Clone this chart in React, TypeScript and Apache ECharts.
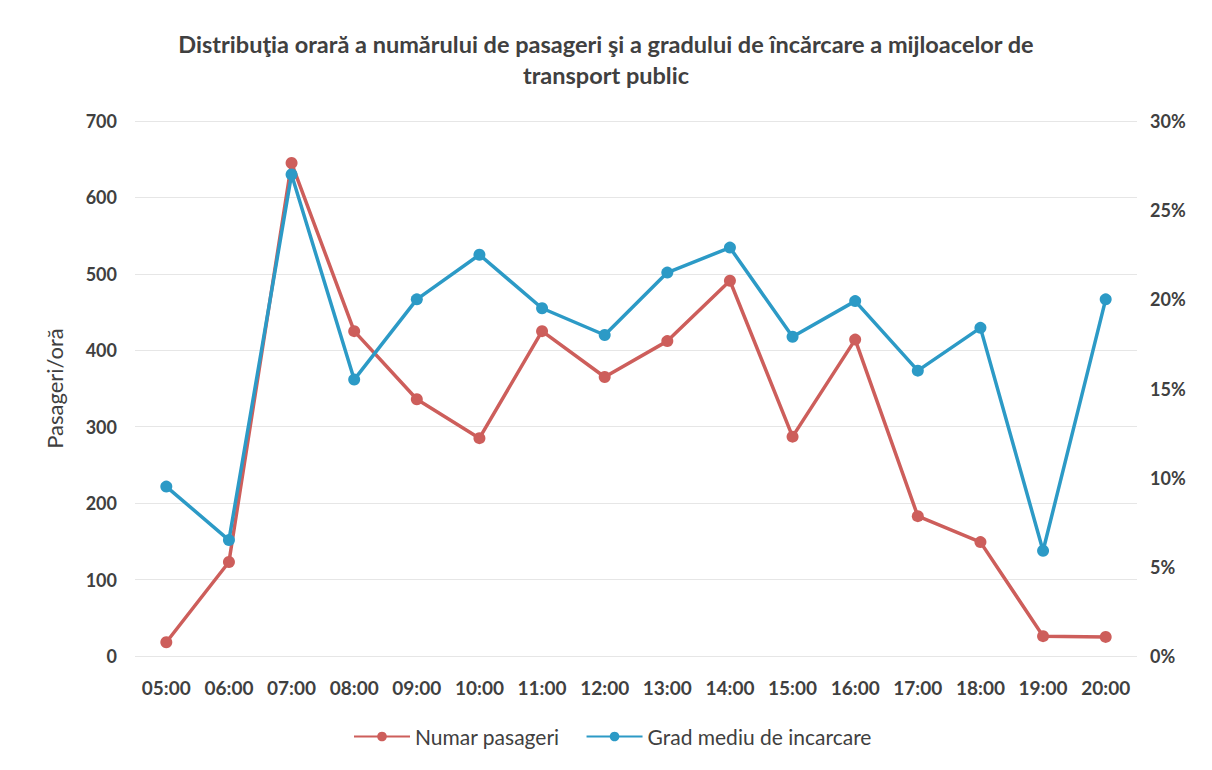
import React, { useEffect, useRef } from "react";
import * as echarts from "echarts";

const hours = ["05:00", "06:00", "07:00", "08:00", "09:00", "10:00", "11:00", "12:00", "13:00", "14:00", "15:00", "16:00", "17:00", "18:00", "19:00", "20:00"];
const passengers = [18, 123, 645, 425, 336, 285, 425, 365, 412, 491, 287, 414, 183, 149, 26, 25];
const loadPct = [9.5, 6.5, 27.0, 15.5, 20.0, 22.5, 19.5, 18.0, 21.5, 22.9, 17.9, 19.9, 16.0, 18.4, 5.9, 20.0];

const titleText = "Distribuţia orară a numărului de pasageri şi a gradului de încărcare a mijloacelor de\ntransport public";
const leftAxisName = "Pasageri/oră";
const seriesNames = ["Numar pasageri", "Grad mediu de incarcare"];

const RED = "#CD5E5B";
const BLUE = "#2C9AC6";
const FONT = "Lato, 'Open Sans', sans-serif";

export default function App() {
  const ref = useRef<HTMLDivElement>(null);
  useEffect(() => {
    if (!ref.current) return;
    const chart = echarts.init(ref.current, undefined, { renderer: "svg" });
    chart.setOption({
      animation: false,
      backgroundColor: "#ffffff",
      title: {
        text: titleText,
        left: "center",
        top: 15,
        textStyle: { fontFamily: FONT, fontSize: 23.5, fontWeight: "bold", color: "#404040", lineHeight: 31 },
      },
      legend: {
        bottom: 10,
        left: 340,
        itemWidth: 56,
        itemHeight: 12,
        itemGap: 26,
        textStyle: { fontFamily: FONT, fontSize: 21, color: "#404040" },
        data: seriesNames,
      },
      grid: { left: 127, right: 67, top: 113, bottom: 106 },
      xAxis: {
        type: "category",
        data: hours,
        boundaryGap: true,
        axisLine: { show: false },
        axisTick: { show: false },
        axisLabel: { interval: 0, hideOverlap: false, fontFamily: FONT, fontSize: 19, color: "#404040", margin: 22, fontWeight: "bold" },
      },
      yAxis: [
        {
          type: "value",
          min: 0,
          max: 700,
          interval: 100,
          name: leftAxisName,
          nameLocation: "middle",
          nameGap: 70,
          nameTextStyle: { fontFamily: FONT, fontSize: 22, color: "#404040" },
          axisLine: { show: false },
          axisTick: { show: false },
          axisLabel: { fontFamily: FONT, fontSize: 18, color: "#404040", margin: 18, fontWeight: "bold" },
          splitLine: { lineStyle: { color: "#E6E6E6", width: 1 } },
        },
        {
          type: "value",
          min: 0,
          max: 30,
          interval: 5,
          position: "right",
          axisLine: { show: false },
          axisTick: { show: false },
          axisLabel: { fontFamily: FONT, fontSize: 18, color: "#404040", margin: 13, fontWeight: "bold", formatter: "{value}%" },
          splitLine: { show: false },
        },
      ],
      series: [
        {
          name: seriesNames[0],
          type: "line",
          yAxisIndex: 0,
          data: passengers,
          symbol: "circle",
          symbolSize: 12,
          lineStyle: { color: RED, width: 3.5 },
          itemStyle: { color: RED },
        },
        {
          name: seriesNames[1],
          type: "line",
          yAxisIndex: 1,
          data: loadPct,
          symbol: "circle",
          symbolSize: 12,
          lineStyle: { color: BLUE, width: 3.5 },
          itemStyle: { color: BLUE },
          z: 3,
        },
      ],
    });
    return () => chart.dispose();
  }, []);
  return <div ref={ref} style={{ width: 1196, height: 754 }} />;
}
